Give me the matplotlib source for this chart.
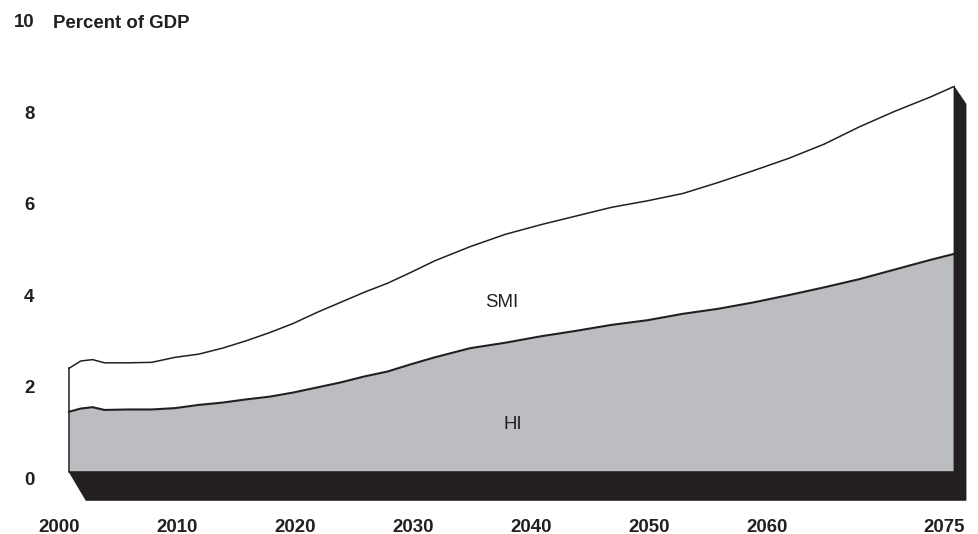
import matplotlib
matplotlib.use("Agg")
import matplotlib.pyplot as plt
from matplotlib.patches import Polygon
from matplotlib.transforms import offset_copy, IdentityTransform

# Medicare expenditures as percent of GDP
years = [2000, 2001, 2002, 2003, 2005, 2007, 2009, 2011, 2013, 2015, 2017,
         2019, 2021, 2023, 2025, 2027, 2029, 2031, 2034, 2037, 2040, 2043,
         2046, 2049, 2052, 2055, 2058, 2061, 2064, 2067, 2070, 2073, 2075]
# HI + SMI (total)
total = [2.26, 2.42, 2.45, 2.38, 2.38, 2.39, 2.50, 2.57, 2.70, 2.86, 3.04,
         3.24, 3.48, 3.70, 3.92, 4.12, 4.36, 4.61, 4.92, 5.19, 5.40, 5.59,
         5.78, 5.92, 6.08, 6.32, 6.58, 6.85, 7.16, 7.54, 7.88, 8.19, 8.42]
# HI alone
hi = [1.31, 1.38, 1.41, 1.35, 1.36, 1.36, 1.39, 1.46, 1.51, 1.58, 1.64,
      1.73, 1.84, 1.95, 2.08, 2.19, 2.35, 2.50, 2.70, 2.82, 2.96, 3.08,
      3.21, 3.31, 3.45, 3.56, 3.70, 3.86, 4.03, 4.21, 4.42, 4.63, 4.76]

x_ticks = [2000, 2010, 2020, 2030, 2040, 2050, 2060, 2075]
y_ticks = [0, 2, 4, 6, 8, 10]

INK = "#231f20"
GREY = "#bcbdc0"
FONT = "Liberation Sans"

W, H = 979, 534
fig = plt.figure(figsize=(W / 100, H / 100), dpi=100)
ax = fig.add_axes([0, 0, 1, 1])

# layout in pixels: x of 2000 / 2075, y of the zero line, pixels per unit
x0px, x1px = 69.0, 954.0
base_py = 471.7
ppu = 45.75
ppy = (x1px - x0px) / (years[-1] - years[0])
ax.set_xlim(2000 - x0px / ppy, 2000 + (W - x0px) / ppy)
ax.set_ylim((base_py - H) / ppu, base_py / ppu)
ax.axis("off")

# front face
ax.fill_between(years, 0, hi, color=GREY, lw=0, zorder=1)
ax.fill_between(years, hi, total, color="white", lw=0, zorder=1)
ax.plot(years, total, color=INK, lw=1.1, zorder=3, solid_joinstyle="round")
ax.plot(years, hi, color=INK, lw=1.5, zorder=3, solid_joinstyle="round")
ax.plot([years[0], years[0]], [0, total[0]], color=INK, lw=1.1, zorder=3)

# depth: dark slab under the base and along the right edge
tr = ax.transData
A = tr.transform((years[0], 0))
B = tr.transform((years[-1], 0))
C = tr.transform((years[-1], total[-1]))
depth_y = 28.6
F = (A[0] + 17.0, A[1] - depth_y)
E = (B[0] + 12.0, A[1] - depth_y)
D = (C[0] + 12.0, C[1] - 17.6)
slab = Polygon([A, B, C, D, E, F], closed=True, facecolor=INK,
               edgecolor=INK, lw=0.6, transform=IdentityTransform(), zorder=2)
ax.add_patch(slab)

# axis labels
xlab_tr = offset_copy(ax.transData, fig=fig, x=-9.5, y=-60.0, units="dots")
for yr in x_ticks:
    ax.text(yr, 0, str(yr), transform=xlab_tr, ha="center", va="baseline",
            fontsize=13.4, fontweight="bold", color=INK, family=FONT)

ylab_tr = offset_copy(ax.transData, fig=fig, x=-34.5, y=-13.3, units="dots")
for v in y_ticks:
    ax.text(years[0], v, str(v), transform=ylab_tr, ha="right", va="baseline",
            fontsize=13.4, fontweight="bold", color=INK, family=FONT)

fig.text(53.3 / W, 1 - 27.5 / H, "Percent of GDP", ha="left", va="baseline",
         fontsize=13.4, fontweight="bold", color=INK, family=FONT)

# series labels
ax.text(2036.7, 3.61, "SMI", ha="center", va="baseline", fontsize=13.4,
        color=INK, family=FONT, zorder=4)
ax.text(2037.6, 0.94, "HI", ha="center", va="baseline", fontsize=13.4,
        color=INK, family=FONT, zorder=4)

fig.savefig("out.png", dpi=100)
